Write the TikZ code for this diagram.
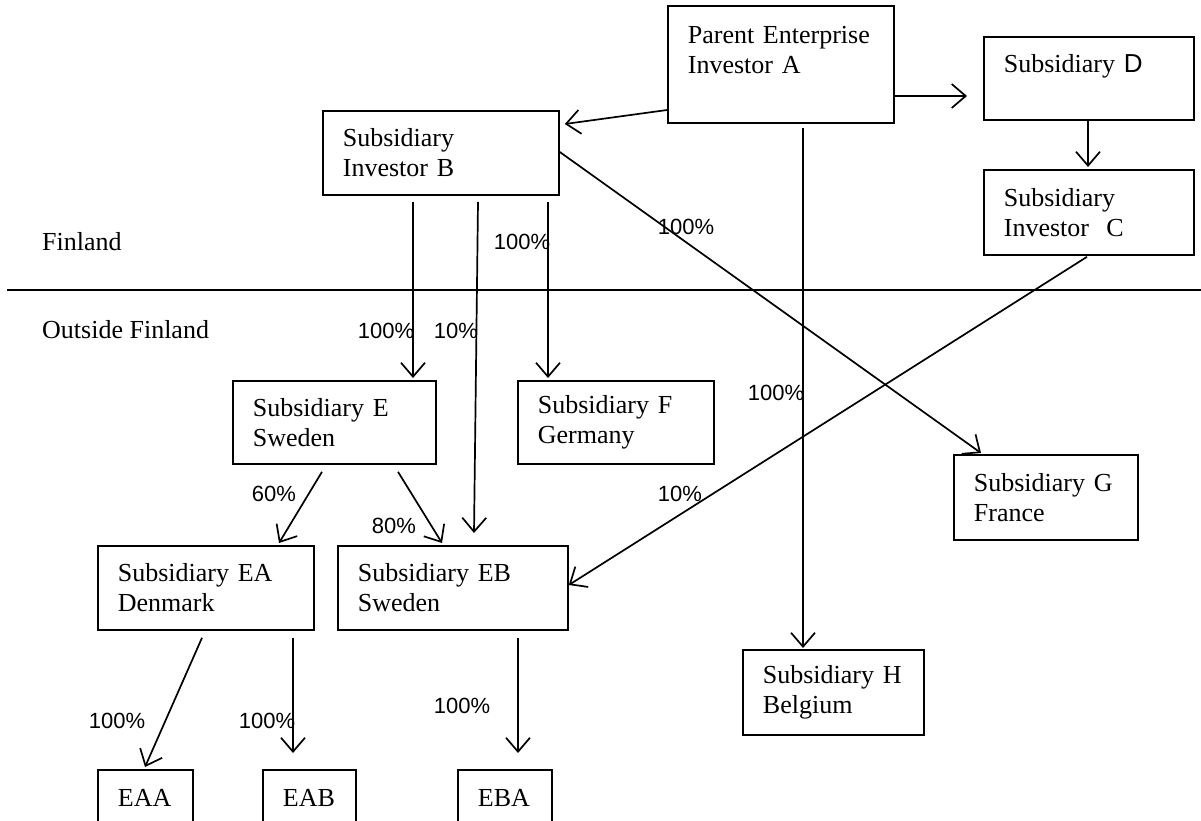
\documentclass[tikz,border=0pt]{standalone}
\usepackage{fontspec}
\setmainfont{Liberation Serif}
\setsansfont{Liberation Sans}
\usetikzlibrary{arrows.meta,calc}
\tikzset{
  box/.style={draw, line width=1.8pt, rectangle, anchor=north west, inner xsep=20pt, inner ysep=0pt,
    align=left, font=\fontsize{26}{30}\selectfont},
  arr/.style={line width=1.7pt, -{Straight Barb[length=14pt,width=24pt,line width=1.7pt]}},
  pct/.style={font=\sffamily\fontsize{22}{24}\selectfont, inner sep=0pt},
  region/.style={font=\fontsize{26}{30}\selectfont, inner sep=0pt, anchor=base west}
}
\newcommand{\bx}[7]{\node[box, minimum width=#4pt, minimum height=#5pt, text width=#6pt] (#1) at (#2,#3) {#7};}
\begin{document}
\begin{tikzpicture}[x=1pt,y=-1pt]
\useasboundingbox (0,0) rectangle (1201,820);
\clip (0,0) rectangle (1201,820);
% boxes
\bx{A}{667}{5}{226}{117}{186}{Parent Enterprise\\Investor A\\\mbox{}}
\bx{D}{983}{36}{210}{83}{170}{Subsidiary {\sffamily D}\\\mbox{}}
\bx{B}{322}{110}{236}{84}{196}{Subsidiary\\Investor B}
\bx{C}{983}{169}{210}{85}{170}{Subsidiary\\Investor\ \ C}
\bx{E}{232}{380}{203}{83}{163}{Subsidiary E\\Sweden}
\bx{F}{517}{380}{196}{83}{156}{Subsidiary F\\Germany}
\bx{G}{953}{454}{184}{85}{144}{Subsidiary G\\France}
\bx{EA}{97}{545}{216}{84}{176}{Subsidiary EA\\Denmark}
\bx{EB}{337}{545}{230}{84}{190}{Subsidiary EB\\Sweden}
\bx{H}{742}{649}{181}{85}{141}{Subsidiary H\\Belgium}
\bx{EAA}{97}{769}{95}{56}{55}{EAA}
\bx{EAB}{262}{769}{93}{56}{53}{EAB}
\bx{EBA}{457}{769}{94}{56}{54}{EBA}
% regions
\node[region] (fin) at (42,250) {Finland};
\node[region] (out) at (42,338) {Outside Finland};
\draw[line width=1.8pt] (7,290) -- (1201,290);
% connectors
\draw[arr] ($(A.north west)+(0,105)$) -- ($(B.north east)+(5,14)$);
\draw[arr] ($(A.north east)+(0,91)$) -- ($(D.north west)+(-16,60)$);
\draw[arr] ($(D.south west)+(105,0)$) -- ($(C.north west)+(105,-2)$);
\draw[arr] ($(A.south west)+(136,4)$) -- ($(H.north west)+(61,-1)$);
\draw[arr] ($(B.south west)+(91,6)$) -- ($(E.north west)+(181,-2)$);
\draw[arr] ($(B.south west)+(156,6)$) -- ($(EB.north west)+(137,-12)$);
\draw[arr] ($(B.south west)+(226,6)$) -- ($(F.north west)+(31,-2)$);
\draw[arr] ($(B.north east)+(0,42)$) -- ($(G.north west)+(28,-1)$);
\draw[arr] ($(C.south west)+(104,1)$) -- ($(EB.north east)+(0,40)$);
\draw[arr] ($(E.south west)+(90,7)$) -- ($(EA.north west)+(182,-2)$);
\draw[arr] ($(E.south west)+(166,7)$) -- ($(EB.north west)+(105,-2)$);
\draw[arr] ($(EA.south west)+(105,7)$) -- ($(EAA.north west)+(48,-2)$);
\draw[arr] ($(EA.south west)+(196,7)$) -- ($(EAB.north west)+(31,-16)$);
\draw[arr] ($(EB.south west)+(181,7)$) -- ($(EBA.north west)+(61,-16)$);
% percentages
\node[pct] (p1) at (386,331) {100\%};
\node[pct] (p2) at (456,331) {10\%};
\node[pct] (p3) at (522,242) {100\%};
\node[pct] (p4) at (686,227) {100\%};
\node[pct] (p5) at (776,393) {100\%};
\node[pct] (p6) at (680,494) {10\%};
\node[pct] (p7) at (274,494) {60\%};
\node[pct] (p8) at (394,526) {80\%};
\node[pct] (p9) at (117,721) {100\%};
\node[pct] (p10) at (267,721) {100\%};
\node[pct] (p11) at (462,706) {100\%};
\end{tikzpicture}
\end{document}
